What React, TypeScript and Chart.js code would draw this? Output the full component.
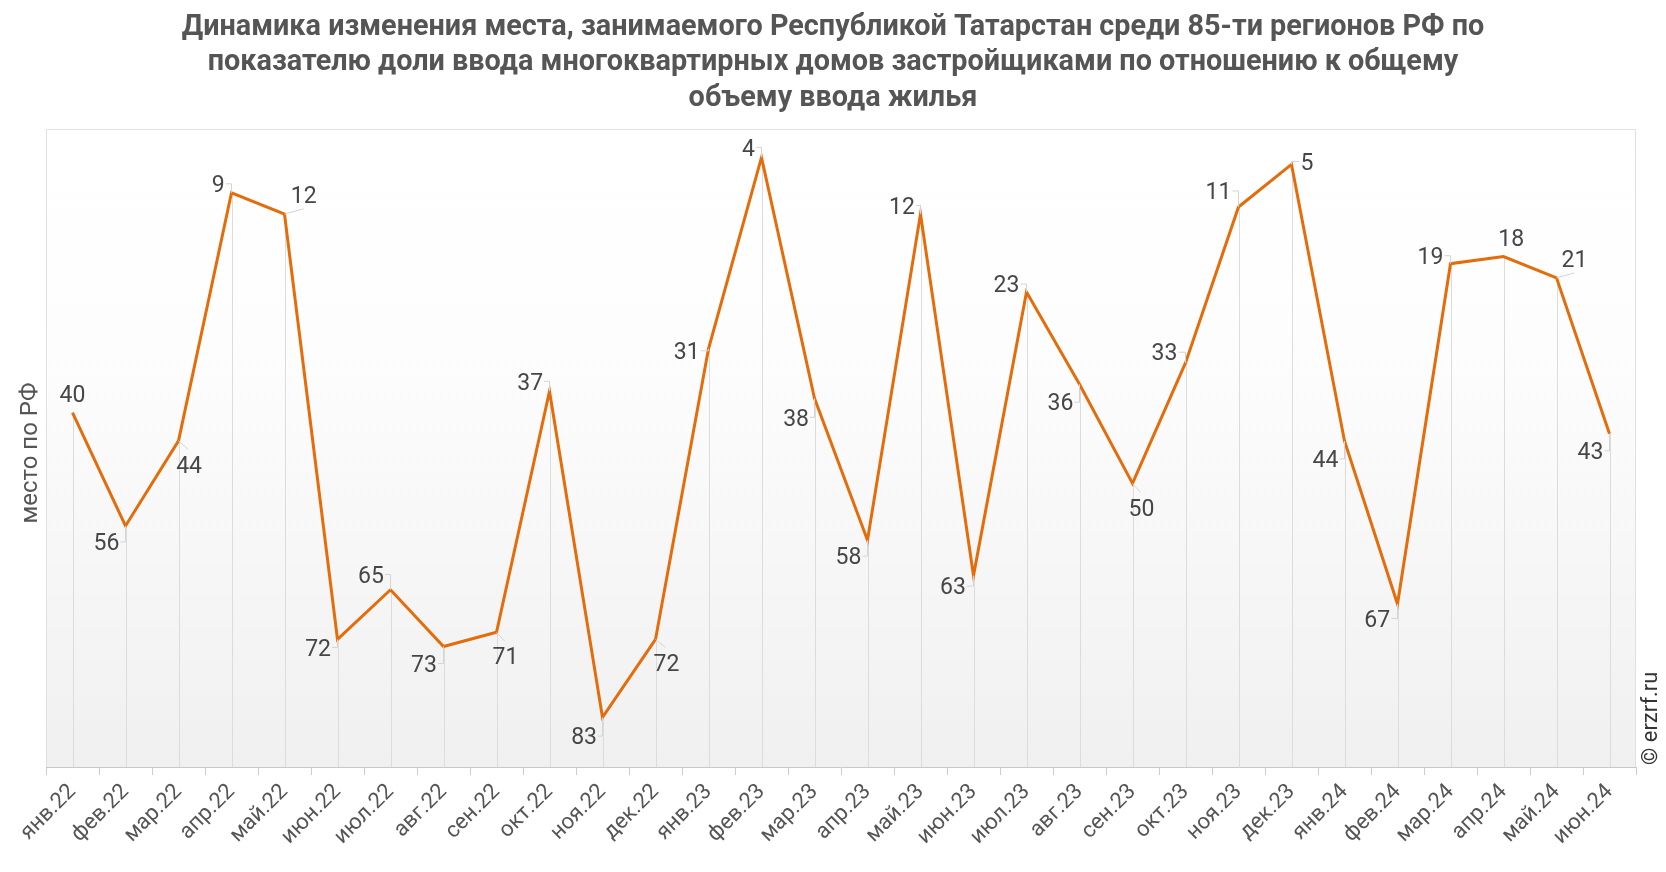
import React, { useEffect, useRef } from 'react';
import { Chart, registerables } from 'chart.js';

Chart.register(...registerables);

const titleLines = [
  'Динамика изменения места, занимаемого Республикой Татарстан среди 85-ти регионов РФ по',
  'показателю доли ввода многоквартирных домов застройщиками по отношению к общему',
  'объему ввода жилья',
];

const categories = [
  'янв.22', 'фев.22', 'мар.22', 'апр.22', 'май.22', 'июн.22', 'июл.22', 'авг.22', 'сен.22', 'окт.22',
  'ноя.22', 'дек.22', 'янв.23', 'фев.23', 'мар.23', 'апр.23', 'май.23', 'июн.23', 'июл.23', 'авг.23',
  'сен.23', 'окт.23', 'ноя.23', 'дек.23', 'янв.24', 'фев.24', 'мар.24', 'апр.24', 'май.24', 'июн.24',
];

const ranks = [
  40, 56, 44, 9, 12, 72, 65, 73, 71, 37,
  83, 72, 31, 4, 38, 58, 12, 63, 23, 36,
  50, 33, 11, 5, 44, 67, 19, 18, 21, 43,
];

const yAxisTitle = 'место по РФ';
const creditText = '© erzrf.ru';

// label nudges (relative to each point), style only
const labelNudges: [number, number][] = [
  [0, -19], [-19, 16], [10.6, 23.4], [-13.4, -9], [19.3, -19.3],
  [-19.4, 8], [-19.6, -15.3], [-19.6, 17], [9, 23.6], [-19.3, -10],
  [-18.4, 18.7], [11, 23], [-21.7, 2], [-13, -10], [-18.4, 19],
  [-19, 16], [-18.6, -8.6], [-20.6, 10.5], [-20, -8], [-19, 18],
  [9, 24], [-21, -10.7], [-20, -16], [15.5, -3], [-19, 18],
  [-20.3, 14.5], [-20, -8], [7.7, -19], [18, -19], [-19, 17],
];

const LINE_COLOR = '#E46C0A';
const TEXT_COLOR = '#555555';
const LABEL_COLOR = '#464646';

const decorPlugin = {
  id: 'decor',
  beforeDraw(chart: any) {
    const { ctx, chartArea: a } = chart;
    ctx.save();
    const g = ctx.createLinearGradient(0, a.top, 0, a.bottom);
    g.addColorStop(0, '#ffffff');
    g.addColorStop(0.35, '#fdfdfd');
    g.addColorStop(1, '#f0f0f0');
    ctx.fillStyle = g;
    ctx.fillRect(a.left, a.top, a.right - a.left, a.bottom - a.top);
    ctx.strokeStyle = '#e0e0e0';
    ctx.lineWidth = 1;
    ctx.beginPath();
    ctx.moveTo(a.left + 0.5, a.bottom);
    ctx.lineTo(a.left + 0.5, a.top + 0.5);
    ctx.lineTo(a.right - 0.5, a.top + 0.5);
    ctx.lineTo(a.right - 0.5, a.bottom);
    ctx.stroke();
    ctx.restore();
  },
  beforeDatasetsDraw(chart: any) {
    const { ctx, chartArea: a } = chart;
    const meta = chart.getDatasetMeta(0);
    ctx.save();
    ctx.strokeStyle = '#dcdcdc';
    ctx.lineWidth = 1;
    meta.data.forEach((pt: any) => {
      const x = Math.round(pt.x) + 0.5;
      ctx.beginPath();
      ctx.moveTo(x, pt.y);
      ctx.lineTo(x, a.bottom);
      ctx.stroke();
    });
    ctx.restore();
  },
  afterDatasetsDraw(chart: any) {
    const { ctx } = chart;
    const meta = chart.getDatasetMeta(0);
    ctx.save();
    ctx.font = '23px Roboto';
    ctx.textAlign = 'center';
    ctx.textBaseline = 'middle';
    meta.data.forEach((pt: any, i: number) => {
      const text = String(ranks[i]);
      const [dx, dy] = labelNudges[i];
      const lx = pt.x + dx;
      const ly = pt.y + dy;
      const w = ctx.measureText(text).width;
      ctx.strokeStyle = '#d4d4d4';
      ctx.lineWidth = 1;
      ctx.beginPath();
      if (dx < -5) {
        ctx.moveTo(pt.x, pt.y);
        ctx.lineTo(pt.x, ly);
        ctx.lineTo(lx + w / 2 + 1, ly);
      } else if (dx > 12 && Math.abs(dy) < 8) {
        ctx.moveTo(pt.x, pt.y);
        ctx.lineTo(pt.x, ly);
        ctx.lineTo(lx - w / 2 - 1, ly);
      } else if (dx > 5 && dy > 0) {
        ctx.moveTo(pt.x, pt.y);
        ctx.lineTo(lx - 1, ly - 15);
      } else if (dx > 12 && dy < -12) {
        ctx.moveTo(pt.x, pt.y);
        ctx.lineTo(lx, ly + 14);
      }
      ctx.stroke();
      ctx.fillStyle = LABEL_COLOR;
      ctx.fillText(text, lx, ly + 2.5);
    });
    ctx.restore();
  },
  afterDraw(chart: any) {
    const { ctx, width } = chart;
    ctx.save();
    ctx.fillStyle = TEXT_COLOR;
    ctx.font = 'bold 28.8px Roboto';
    ctx.textAlign = 'center';
    ctx.textBaseline = 'alphabetic';
    titleLines.forEach((line, i) => {
      ctx.fillText(line, width / 2, 34.5 + i * 35.7);
    });

    ctx.font = '24px Roboto';
    ctx.textBaseline = 'middle';
    ctx.translate(31, 453);
    ctx.rotate(-Math.PI / 2);
    ctx.fillText(yAxisTitle, 0, 0);
    ctx.restore();

    ctx.save();
    ctx.fillStyle = '#333333';
    ctx.font = '22px Roboto';
    ctx.textAlign = 'left';
    ctx.textBaseline = 'middle';
    ctx.translate(1651, chart.chartArea.bottom - 2);
    ctx.rotate(-Math.PI / 2);
    ctx.fillText(creditText, 0, 0);
    ctx.restore();
  },
};

export default function App() {
  const canvasRef = useRef<HTMLCanvasElement | null>(null);

  useEffect(() => {
    const canvas = canvasRef.current;
    if (!canvas) return;
    const chart = new Chart(canvas, {
      type: 'line',
      data: {
        labels: categories,
        datasets: [
          {
            data: ranks,
            borderColor: LINE_COLOR,
            borderWidth: 3,
            pointRadius: 0,
            pointHoverRadius: 0,
            fill: false,
            tension: 0,
          },
        ],
      },
      options: {
        animation: false,
        responsive: false,
        maintainAspectRatio: false,
        events: [],
        layout: { padding: { top: 129, left: 46, right: 30, bottom: 0 } },
        plugins: {
          legend: { display: false },
          title: { display: false },
          tooltip: { enabled: false },
        },
        scales: {
          x: {
            type: 'category',
            offset: true,
            grid: {
              offset: true,
              drawOnChartArea: false,
              drawTicks: true,
              tickLength: 8,
              color: '#cccccc',
            },
            border: { display: true, color: '#c8c8c8', width: 1 },
            ticks: {
              autoSkip: false,
              minRotation: 45,
              maxRotation: 45,
              padding: 4,
              color: TEXT_COLOR,
              font: { family: 'Roboto', size: 22 },
            },
            afterFit: (scale: any) => {
              scale.height = 105;
            },
          },
          y: {
            display: false,
            reverse: true,
            min: 0,
            max: 90,
          },
        },
      },
      plugins: [decorPlugin],
    });
    return () => chart.destroy();
  }, []);

  return (
    <div style={{ position: 'absolute', left: 0, top: 0, width: 1666, height: 872, background: '#ffffff' }}>
      <canvas ref={canvasRef} width={1666} height={872} style={{ width: 1666, height: 872, display: 'block' }} />
    </div>
  );
}
